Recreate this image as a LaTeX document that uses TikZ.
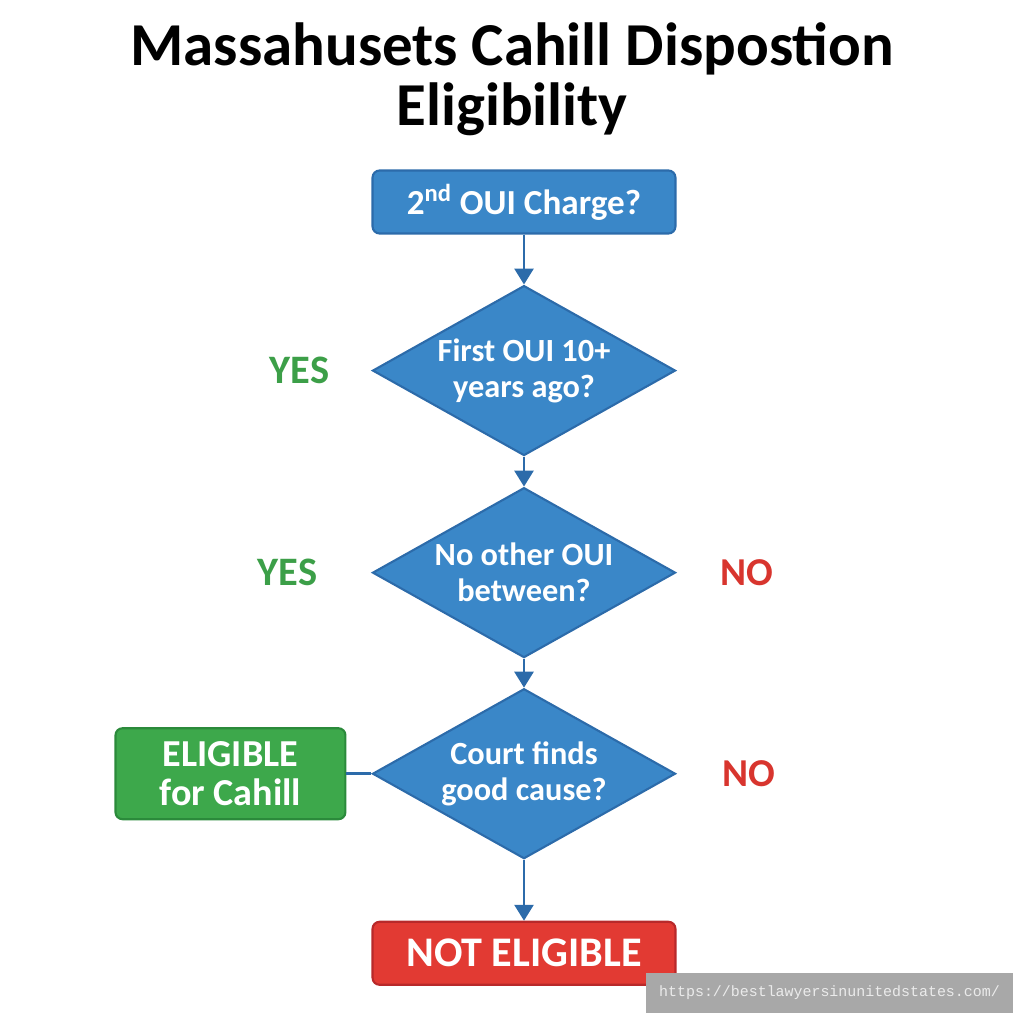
\documentclass[tikz,border=0pt]{standalone}
\usepackage{fontspec}
\setmainfont{Carlito}
\newfontfamily\wmfont{Liberation Mono}
\usetikzlibrary{arrows.meta,positioning,shapes.geometric}
\definecolor{flowblue}{HTML}{3A87C8}
\definecolor{flowblueline}{HTML}{2C6BAA}
\definecolor{okgreen}{HTML}{3DA84B}
\definecolor{okgreenline}{HTML}{2B8A3B}
\definecolor{nored}{HTML}{E23A33}
\definecolor{noredline}{HTML}{B8292A}
\definecolor{yesgreen}{HTML}{3C9F48}
\definecolor{nolabelred}{HTML}{D8352E}

\begin{document}
\begin{tikzpicture}[
    x=0.02cm, y=0.02cm,
    startbox/.style={rectangle, rounded corners=4pt, draw=flowblueline, fill=flowblue, line width=1.2pt, minimum width=6.06cm, minimum height=1.26cm, align=center, text=white, font=\bfseries\fontsize{20}{22}\selectfont},
    decision/.style={diamond, draw=flowblueline, fill=flowblue, line width=1.2pt, minimum width=6.06cm, minimum height=3.4cm, shape aspect=1.8, inner sep=0pt, align=center, text=white, font=\bfseries\fontsize{18.4}{20.5}\selectfont},
    eligbox/.style={rectangle, rounded corners=4pt, draw=okgreenline, fill=okgreen, line width=1.2pt, minimum width=4.6cm, minimum height=1.82cm, align=center, text=white, font=\bfseries\fontsize{21.7}{22}\selectfont},
    notbox/.style={rectangle, rounded corners=4pt, draw=noredline, fill=nored, line width=1.2pt, minimum width=6.06cm, minimum height=1.26cm, align=center, text=white, font=\bfseries\fontsize{24}{26}\selectfont},
    yeslabel/.style={inner sep=0pt, text=yesgreen, font=\bfseries\fontsize{23}{25}\selectfont},
    nolabel/.style={inner sep=0pt, text=nolabelred, font=\bfseries\fontsize{22.5}{25}\selectfont},
    arrow/.style={-{Triangle[length=3.2mm, width=3.8mm]}, line width=1.6pt, draw=flowblueline},
    link/.style={line width=1.6pt, draw=flowblueline}
]
    \useasboundingbox (0,0) rectangle (1024,-1024);

    % Title
    \node[align=center, font=\bfseries\fontsize{34.7}{34}\selectfont] (title) at (512,-79) {Massahusets Cahill Dispostion\\Eligibility};

    % Start
    \node[startbox] (charge) at (524,-202) {2\textsuperscript{nd} OUI Charge?};

    % Decisions
    \node[decision, below=1.0cm of charge] (firstoui) {First OUI 10+\\years ago?};
    \node[decision, below=0.6cm of firstoui] (noother) {No other OUI\\between?};
    \node[decision, below=0.58cm of noother] (goodcause) {Court finds\\good cause?};

    % Outcomes
    \node[eligbox, left=0.5cm of goodcause] (eligible) {ELIGIBLE\\for Cahill};
    \node[notbox, below=1.22cm of goodcause] (noteligible) {NOT ELIGIBLE};

    % Labels
    \node[yeslabel, left=0.84cm of firstoui] (yesfirst) {YES};
    \node[yeslabel, left=1.08cm of noother] (yesother) {YES};
    \node[nolabel, right=0.88cm of noother] (noother-no) {NO};
    \node[nolabel, right=0.92cm of goodcause] (nocause) {NO};

    % Arrows
    \draw[arrow] (charge) -- (firstoui);
    \draw[arrow] (firstoui) -- (noother);
    \draw[arrow] (noother) -- (goodcause);
    \draw[arrow] (goodcause) -- (noteligible);
    \draw[link] (eligible) -- (goodcause);

    % Watermark
    \node[fill=black!34, minimum width=7.34cm, minimum height=0.8cm, text=white!92!black, font=\wmfont\fontsize{8.5}{10}\selectfont] (watermark) at (829.5,-993) {https://bestlawyersinunitedstates.com/};

\end{tikzpicture}
\end{document}
